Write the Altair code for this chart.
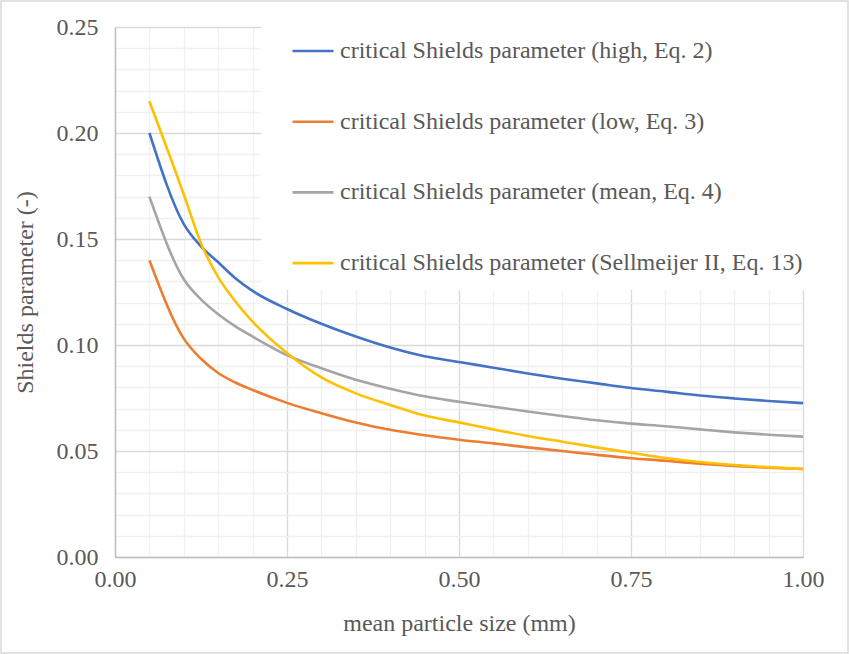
import altair as alt
import pandas as pd

# ---- data ----
size_mm = [0.05, 0.10, 0.125, 0.15, 0.175, 0.20, 0.25, 0.30, 0.35, 0.40, 0.45, 0.50,
           0.55, 0.60, 0.65, 0.70, 0.75, 0.80, 0.85, 0.90, 0.95, 1.00]
high = [0.200, 0.157, 0.1465, 0.139, 0.1315, 0.1255, 0.117, 0.110, 0.104, 0.0988, 0.0947, 0.0920,
        0.0893, 0.0866, 0.0841, 0.0819, 0.0797, 0.0780, 0.0762, 0.0748, 0.0736, 0.0726]
low = [0.140, 0.103, 0.0935, 0.0868, 0.0823, 0.0788, 0.0727, 0.0678, 0.0634, 0.0600, 0.0574, 0.0553,
       0.0536, 0.0517, 0.0500, 0.0482, 0.0466, 0.0454, 0.0440, 0.0429, 0.0421, 0.0415]
mean = [0.170, 0.131, 0.1215, 0.1145, 0.1088, 0.1040, 0.0952, 0.0890, 0.0836, 0.0794, 0.0758, 0.0732,
        0.0709, 0.0686, 0.0665, 0.0645, 0.0629, 0.0617, 0.0602, 0.0588, 0.0577, 0.0568]
sellmeijer = [0.215, 0.171, 0.148, 0.132, 0.1205, 0.111, 0.0962, 0.0847, 0.0772, 0.0717, 0.0667, 0.0635,
              0.0602, 0.0571, 0.0544, 0.0517, 0.0492, 0.0467, 0.0448, 0.0434, 0.0424, 0.0415]

series_names = [
    "critical Shields parameter (high, Eq. 2)",
    "critical Shields parameter (low, Eq. 3)",
    "critical Shields parameter (mean, Eq. 4)",
    "critical Shields parameter (Sellmeijer II, Eq. 13)",
]
series_colors = ["#4472C4", "#ED7D31", "#A5A5A5", "#FFC000"]

x_ticks = [round(i * 0.05, 2) for i in range(21)]
y_ticks = [round(i * 0.01, 2) for i in range(26)]

rows = []
for k, (name, vals) in enumerate(zip(series_names, [high, low, mean, sellmeijer])):
    for xv, yv in zip(size_mm, vals):
        rows.append({"size": xv, "shields": yv, "series": name, "k": k})
df = pd.DataFrame(rows)

FONT = "Times New Roman, Liberation Serif, serif"
TXT = "#595959"
major_x = "abs(datum.value*4 - round(datum.value*4)) < 0.001"
major_y = "abs(datum.value*20 - round(datum.value*20)) < 0.001"

x_axis = alt.Axis(
    values=x_ticks,
    grid=True,
    gridColor={"condition": {"test": major_x, "value": "#d9d9d9"}, "value": "#f0f0f0"},
    gridWidth=1.3,
    ticks=False,
    labelExpr=f"{major_x} ? format(datum.value, '.2f') : ''",
    labelOverlap=False,
    labelFlush=False,
    labelPadding=10,
    title="mean particle size (mm)",
    titlePadding=20,
)
y_axis = alt.Axis(
    values=y_ticks,
    grid=True,
    gridColor={"condition": {"test": major_y, "value": "#d9d9d9"}, "value": "#f0f0f0"},
    gridWidth=1.3,
    ticks=False,
    labelExpr=f"{major_y} ? format(datum.value, '.2f') : ''",
    labelOverlap=False,
    labelFlush=False,
    labelPadding=17,
    title="Shields parameter (-)",
    titlePadding=19,
)

lines = alt.Chart(df).mark_line(strokeWidth=2.6, interpolate="monotone").encode(
    x=alt.X("size:Q", scale=alt.Scale(domain=[0, 1], nice=False), axis=x_axis),
    y=alt.Y("shields:Q", scale=alt.Scale(domain=[0, 0.25], nice=False), axis=y_axis),
    color=alt.Color(
        "series:N",
        scale=alt.Scale(domain=series_names, range=series_colors),
        legend=alt.Legend(
            title=None,
            orient="none",
            legendX=146,
            legendY=-12,
            padding=14,
            symbolOffset=16,
            fillColor="white",
            symbolType="stroke",
            symbolSize=1681,
            symbolStrokeWidth=2.6,
            labelFont=FONT,
            labelFontSize=24,
            labelColor=TXT,
            labelOffset=5,
            labelLimit=700,
            rowPadding=36.7,
        ),
    ),
    order=alt.Order("k:Q"),
)

frame = alt.Chart(pd.DataFrame({"a": [0]})).mark_rect(
    fill="transparent", stroke="#d9d9d9", strokeWidth=1.5
).encode(
    x=alt.value(-114), x2=alt.value(733), y=alt.value(-26), y2=alt.value(626)
)

chart = alt.layer(lines, frame).properties(
    width=688,
    height=530,
    autosize=alt.AutoSizeParams(type="none"),
    padding={"left": 115, "top": 27, "right": 46, "bottom": 97},
    background="white",
).configure_view(strokeWidth=0).configure_axis(
    domainColor="#bfbfbf",
    domainWidth=1.5,
    labelFont=FONT,
    labelFontSize=24,
    labelColor=TXT,
    titleFont=FONT,
    titleFontSize=24,
    titleFontWeight="normal",
    titleColor=TXT,
)

chart.save("out.html", embed_options={"renderer": "svg", "actions": False})
